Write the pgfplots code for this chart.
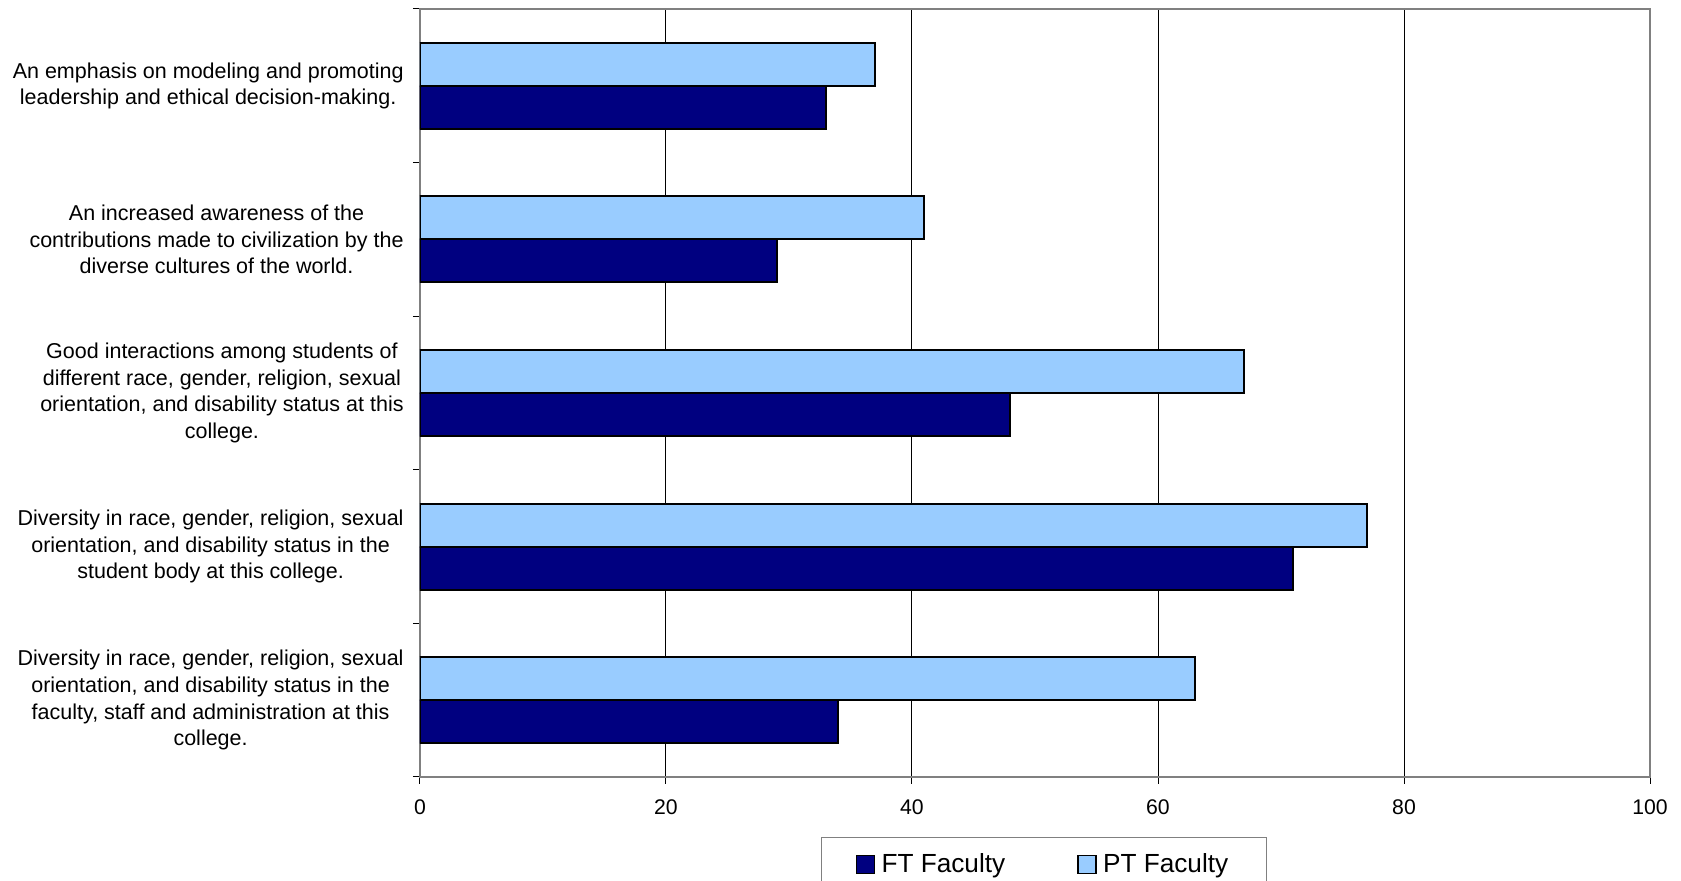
\documentclass[border=0pt]{standalone}
\usepackage{fontspec}
\setmainfont{Liberation Sans}
\usepackage{pgfplots}
\pgfplotsset{compat=1.18}
\definecolor{ftblue}{HTML}{000080}
\definecolor{ptblue}{HTML}{99CCFF}
\definecolor{framegray}{HTML}{808080}
\begin{document}
\begin{tikzpicture}
\begin{axis}[
  name=ax,
  scale only axis, width=615pt, height=384pt,
  xbar, bar width=0.28,
  xmin=0, xmax=100, ymin=-0.5, ymax=4.5,
  xtick={0,20,...,100}, xtick pos=bottom, ytick pos=left,
  ytick={-0.5,0.5,...,4.5}, yticklabels={},
  major tick length=3.5pt, tick align=outside,
  tick style={black, line width=0.5pt},
  xmajorgrids, major grid style={black, line width=0.5pt},
  axis line style={framegray, line width=1pt},
  /pgf/number format/assume math mode=true,
  xticklabel style={font=\fontsize{10.6}{12.6}\selectfont, yshift=-4.3pt},
  extra y ticks={0,1,2,3,4},
  extra y tick labels={
    {Diversity in race, gender, religion, sexual\\orientation, and disability status in the\\faculty, staff and administration at this\\college.},
    {Diversity in race, gender, religion, sexual\\orientation, and disability status in the\\student body at this college.},
    {Good interactions among students of\\different race, gender, religion, sexual\\orientation, and disability status at this\\college.},
    {An increased awareness of the\\contributions made to civilization by the\\diverse cultures of the world.},
    {An emphasis on modeling and promoting\\leadership and ethical decision-making.}},
  extra y tick style={major tick length=0pt, grid=none,
    yticklabel style={inner sep=0pt, align=center, xshift=-8pt,
      font=\fontsize{10.75}{13.35}\selectfont}},
  legend columns=2,
  legend style={at={(0.5073,0)}, anchor=north, yshift=-30pt,
    draw=framegray, line width=0.5pt,
    font=\fontsize{13.1}{15.5}\selectfont,
    inner xsep=17pt, inner ysep=6pt,
    /tikz/every even column/.append style={column sep=34pt}},
]
\addplot[draw=black, fill=ftblue, line width=1pt, bar shift=-0.14,
  legend image code/.code={\draw[draw=black, fill=ftblue, line width=0.8pt] (0pt,-4.5pt) rectangle (9pt,4.5pt); \path (10pt,0pt);}]
  coordinates {(34,0) (71,1) (48,2) (29,3) (33,4)};
\addlegendentry{FT Faculty}
\addplot[draw=black, fill=ptblue, line width=1pt, bar shift=0.14,
  legend image code/.code={\draw[draw=black, fill=ptblue, line width=0.8pt] (0pt,-4.5pt) rectangle (9pt,4.5pt); \path (10pt,0pt);}]
  coordinates {(63,0) (77,1) (67,2) (41,3) (37,4)};
\addlegendentry{PT Faculty}
\end{axis}
\pgfresetboundingbox
\path ([xshift=-210pt,yshift=-52pt]ax.south west) rectangle ([xshift=15.5pt,yshift=4.5pt]ax.north east);
\end{tikzpicture}
\end{document}
